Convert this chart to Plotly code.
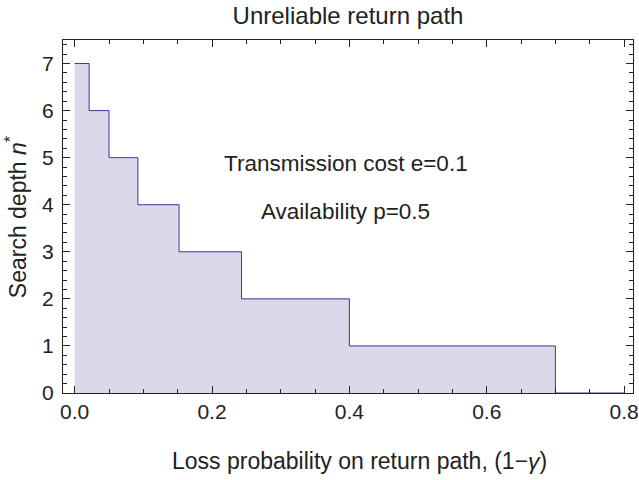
import plotly.graph_objects as go

# Step boundaries (loss probability) and search depth values
x_breaks = [0.0, 0.021, 0.050, 0.092, 0.152, 0.243, 0.400, 0.700, 0.800]
depth = [7, 6, 5, 4, 3, 2, 1, 0, 0]

x_ticks = [0.0, 0.2, 0.4, 0.6, 0.8]
x_tick_labels = ["0.0", "0.2", "0.4", "0.6", "0.8"]
y_ticks = [0, 1, 2, 3, 4, 5, 6, 7]

line_color = "rgb(55,55,150)"
fill_color = "rgb(217,217,235)"
text_color = "#222"
font_family = "Liberation Sans, Arial, Helvetica, sans-serif"
big = 23
tick_size = 21

fig = go.Figure()
fig.add_trace(go.Scatter(
    x=x_breaks, y=depth, mode="lines",
    line=dict(shape="hv", color=line_color, width=1),
    fill="tozeroy", fillcolor=fill_color,
    showlegend=False, hoverinfo="skip",
))

fig.add_annotation(x=0.395, y=4.87, text="Transmission cost e=0.1", showarrow=False,
                   font=dict(size=big - 0.5, color=text_color, family=font_family))
fig.add_annotation(x=0.395, y=3.85, text="Availability p=0.5", showarrow=False,
                   font=dict(size=big - 0.5, color=text_color, family=font_family))

# axis titles
fig.add_annotation(xref="paper", yref="paper", x=0.521, y=-0.193, yanchor="middle",
                   text="Loss probability on return path, (1\u2212<i>\u03b3</i>)", showarrow=False,
                   font=dict(size=big, color=text_color, family=font_family))
fig.add_annotation(xref="paper", yref="paper", x=-0.083, y=0.5, textangle=-90,
                   xanchor="center", yanchor="middle",
                   text="Search depth <i>n</i><sup>*</sup>", showarrow=False,
                   font=dict(size=big, color=text_color, family=font_family))

axis_common = dict(
    showgrid=False, zeroline=False, showline=True, linecolor=text_color, linewidth=1,
    mirror="allticks", ticks="inside", ticklen=7, tickcolor=text_color, automargin=False,
    tickfont=dict(size=tick_size, color=text_color, family=font_family),
)

fig.update_xaxes(
    range=[-0.017, 0.813], tickvals=x_ticks, ticktext=x_tick_labels,
    minor=dict(dtick=0.05, tick0=0, ticks="inside", ticklen=4, tickcolor=text_color, showgrid=False),
    **axis_common,
)
fig.update_yaxes(
    range=[0, 7.5], tickvals=y_ticks, ticklabelstandoff=4,
    minor=dict(dtick=0.2, tick0=0, ticks="inside", ticklen=4, tickcolor=text_color, showgrid=False),
    **axis_common,
)

fig.update_layout(
    width=639, height=480,
    margin=dict(l=63, r=6, t=40, b=87),
    plot_bgcolor="white", paper_bgcolor="white",
    title=dict(text="Unreliable return path", x=0.5, xref="paper", xanchor="center",
               y=0.968, yanchor="middle",
               font=dict(size=24, color=text_color, family=font_family)),
)

fig.write_html("out.html", config={"displayModeBar": False},
               post_script="document.body.style.margin='0';")
